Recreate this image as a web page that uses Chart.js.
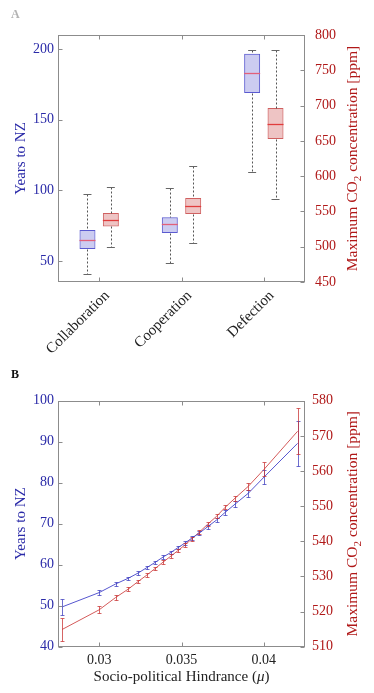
<!DOCTYPE html>
<html><head><meta charset="utf-8">
<script src="https://cdn.jsdelivr.net/npm/chart.js@4.4.1/dist/chart.umd.min.js"></script>
<style>
html,body{margin:0;padding:0;background:#fff;width:374px;height:693px;overflow:hidden}
.wrap{position:absolute;left:0;width:374px}
#wa{top:0;height:365px}
#wb{top:365px;height:328px}
canvas{display:block}
</style></head><body>
<div class="wrap" id="wa"><canvas id="ca" width="374" height="365"></canvas></div>
<div class="wrap" id="wb"><canvas id="cb" width="374" height="328"></canvas></div>
<script>
// ---------- Panel A data (box plots) ----------
const categories = ['Collaboration', 'Cooperation', 'Defection'];
const yearsMin    = [40.7, 48.7, 112.9];
const yearsQ1     = [58.4, 69.7, 168.9];
const yearsMedian = [64.8, 75.8, 182.8];
const yearsQ3     = [71.8, 80.8, 196.7];
const yearsMax    = [97.6, 101.6, 199.6];
const co2Min      = [499.6, 505.3, 567.6];
const co2Q1       = [528.8, 546.4, 652.6];
const co2Median   = [537.9, 557.7, 674.3];
const co2Q3       = [547.8, 569.0, 696.6];
const co2Max      = [584.6, 613.8, 778.2];
const yearsTicksA = [50, 100, 150, 200];
const co2TicksA   = [450, 500, 550, 600, 650, 700, 750, 800];

// ---------- Panel B data (mean +/- error) ----------
const mu        = [0.02775, 0.0300, 0.0310, 0.03177, 0.03238, 0.0329, 0.03341, 0.03389, 0.03436, 0.0348,
                   0.03522, 0.03563, 0.03608, 0.0366, 0.03713, 0.03766, 0.03826, 0.03905, 0.04002, 0.04205];
const yearsMean = [49.7, 53.2, 55.3, 56.7, 58.0, 59.3, 60.6, 61.9, 63.0, 64.2,
                   65.3, 66.5, 67.7, 69.3, 70.9, 72.8, 74.8, 77.4, 81.4, 89.6];
const yearsErr  = [1.9, 0.6, 0.4, 0.4, 0.4, 0.4, 0.4, 0.4, 0.4, 0.4,
                   0.4, 0.4, 0.4, 0.5, 0.5, 0.6, 0.7, 0.9, 1.6, 5.5];
const co2Mean   = [514.9, 520.5, 524.0, 526.4, 528.6, 530.4, 532.3, 534.1, 535.8, 537.4,
                   539.0, 540.7, 542.6, 544.9, 547.1, 549.7, 552.3, 555.6, 560.5, 571.3];
const co2Err    = [3.3, 1.0, 0.6, 0.5, 0.5, 0.5, 0.5, 0.5, 0.5, 0.5,
                   0.5, 0.5, 0.5, 0.5, 0.6, 0.6, 0.7, 0.9, 2.0, 6.6];
const muTicks      = [0.03, 0.035, 0.04];
const muTickLabels = ['0.03', '0.035', '0.04'];
const yearsTicksB  = [40, 50, 60, 70, 80, 90, 100];
const co2TicksB    = [510, 520, 530, 540, 550, 560, 570, 580];

// ---------- styling ----------
const SERIF = "'Liberation Serif', 'Times New Roman', 'DejaVu Serif', serif";
const BLUE_TXT = '#2a2aa8';
const RED_TXT = '#b01818';
const FRAME = '#8c8c8c';
Chart.defaults.font.family = SERIF;
Chart.defaults.color = '#222';

function fixTicks(values) {
  return function (scale) { scale.ticks = values.map(v => ({ value: v })); };
}
function setWidth(w) { return function (s) { s.width = w; }; }
function setHeight(h) { return function (s) { s.height = h; }; }

// frame, inward ticks, titles, panel letters
const decor = {
  id: 'decor',
  afterDraw(chart, args, o) {
    const ctx = chart.ctx;
    const { left, right, top, bottom } = chart.chartArea;
    ctx.save();
    ctx.strokeStyle = FRAME;
    ctx.lineWidth = 1;
    const L = Math.round(left) + 0.5, R = Math.round(right) - 0.5;
    const T = Math.round(top) + 0.5, B = Math.round(bottom) - 0.5;
    ctx.strokeRect(L, T, R - L, B - T);
    const TL = 4;
    ctx.beginPath();
    const xs = chart.scales.x;
    xs.ticks.forEach((t, i) => {
      const p = Math.round(xs.getPixelForTick(i)) + 0.5;
      ctx.moveTo(p, B); ctx.lineTo(p, B - TL);
      ctx.moveTo(p, T); ctx.lineTo(p, T + TL);
    });
    const yl = chart.scales.y;
    yl.ticks.forEach((t, i) => {
      const p = Math.round(yl.getPixelForTick(i)) + 0.5;
      ctx.moveTo(L, p); ctx.lineTo(L + TL, p);
    });
    const yr = chart.scales.y1;
    yr.ticks.forEach((t, i) => {
      const p = Math.round(yr.getPixelForTick(i)) + 0.5;
      ctx.moveTo(R, p); ctx.lineTo(R - TL, p);
    });
    ctx.stroke();

    const cy = (top + bottom) / 2;
    // left title
    ctx.font = '15px ' + SERIF;
    ctx.fillStyle = BLUE_TXT;
    ctx.textBaseline = 'middle';
    ctx.textAlign = 'center';
    ctx.save();
    ctx.translate(o.leftTitleX, cy);
    ctx.rotate(-Math.PI / 2);
    ctx.fillText('Years to NZ', 0, 0);
    ctx.restore();
    // right title with subscript
    ctx.save();
    ctx.fillStyle = RED_TXT;
    ctx.translate(o.rightTitleX, cy);
    ctx.rotate(-Math.PI / 2);
    ctx.textAlign = 'left';
    const p1 = 'Maximum CO', p2 = '2', p3 = ' concentration [ppm]';
    ctx.font = '15.5px ' + SERIF;
    const w1 = ctx.measureText(p1).width, w3 = ctx.measureText(p3).width;
    ctx.font = '11px ' + SERIF;
    const w2 = ctx.measureText(p2).width;
    let s = -(w1 + w2 + w3) / 2;
    ctx.font = '15.5px ' + SERIF;
    ctx.fillText(p1, s, 0);
    ctx.font = '11px ' + SERIF;
    ctx.fillText(p2, s + w1, 5);
    ctx.font = '15.5px ' + SERIF;
    ctx.fillText(p3, s + w1 + w2, 0);
    ctx.restore();
    // bottom title (panel B)
    if (o.xTitle) {
      const pa = 'Socio-political Hindrance (', pb = 'μ', pc = ')';
      ctx.fillStyle = '#222';
      ctx.textAlign = 'left';
      ctx.font = '15px ' + SERIF;
      const wa = ctx.measureText(pa).width, wc = ctx.measureText(pc).width;
      ctx.font = 'italic 15px ' + SERIF;
      const wb = ctx.measureText(pb).width;
      const cx = (left + right) / 2;
      let sx = cx - (wa + wb + wc) / 2;
      ctx.font = '15px ' + SERIF;
      ctx.fillText(pa, sx, o.xTitleY);
      ctx.font = 'italic 15px ' + SERIF;
      ctx.fillText(pb, sx + wa, o.xTitleY);
      ctx.font = '15px ' + SERIF;
      ctx.fillText(pc, sx + wa + wb, o.xTitleY);
    }
    // panel letter
    ctx.font = 'bold 12px ' + SERIF;
    ctx.fillStyle = o.letterColor;
    ctx.textAlign = 'left';
    ctx.textBaseline = 'top';
    ctx.fillText(o.letter, 11, o.letterY);
    ctx.restore();
  }
};

// whiskers, caps, medians for the box datasets
const boxWhiskers = {
  id: 'boxWhiskers',
  afterDatasetsDraw(chart) {
    const ctx = chart.ctx;
    chart.data.datasets.forEach((ds, di) => {
      const meta = chart.getDatasetMeta(di);
      const ys = chart.scales[meta.yAxisID];
      const st = ds.stats;
      meta.data.forEach((el, i) => {
        const x = el.x, w = el.width;
        const px = v => Math.round(ys.getPixelForValue(v)) + 0.5;
        const xx = Math.round(x) + 0.5;
        ctx.save();
        ctx.strokeStyle = '#555';
        ctx.lineWidth = 1;
        ctx.setLineDash([2, 2]);
        ctx.beginPath();
        ctx.moveTo(xx, px(st.max[i])); ctx.lineTo(xx, px(st.q3[i]));
        ctx.moveTo(xx, px(st.q1[i])); ctx.lineTo(xx, px(st.min[i]));
        ctx.stroke();
        ctx.setLineDash([]);
        ctx.strokeStyle = '#666';
        ctx.beginPath();
        const cw = w / 4;
        ctx.moveTo(x - cw, px(st.max[i])); ctx.lineTo(x + cw, px(st.max[i]));
        ctx.moveTo(x - cw, px(st.min[i])); ctx.lineTo(x + cw, px(st.min[i]));
        ctx.stroke();
        ctx.strokeStyle = ds.medianColor;
        ctx.lineWidth = 1.3;
        ctx.beginPath();
        ctx.moveTo(x - w / 2, px(st.med[i])); ctx.lineTo(x + w / 2, px(st.med[i]));
        ctx.stroke();
        ctx.restore();
      });
    });
  }
};

// error bars for panel B
const errorBars = {
  id: 'errorBars',
  afterDatasetsDraw(chart) {
    const ctx = chart.ctx;
    const xs = chart.scales.x;
    chart.data.datasets.forEach((ds, di) => {
      const meta = chart.getDatasetMeta(di);
      const ys = chart.scales[meta.yAxisID];
      ctx.save();
      ctx.strokeStyle = ds.errColor;
      ctx.lineWidth = 1;
      ctx.beginPath();
      ds.data.forEach((pt, i) => {
        const x = Math.round(xs.getPixelForValue(pt.x)) + 0.5;
        const yt = Math.round(ys.getPixelForValue(pt.y + ds.errors[i])) + 0.5;
        const yb = Math.round(ys.getPixelForValue(pt.y - ds.errors[i])) + 0.5;
        ctx.moveTo(x, yt); ctx.lineTo(x, yb);
        ctx.moveTo(x - 2, yt); ctx.lineTo(x + 2, yt);
        ctx.moveTo(x - 2, yb); ctx.lineTo(x + 2, yb);
      });
      ctx.stroke();
      ctx.restore();
    });
  }
};

const hiddenGrid = { display: false, drawTicks: false };
const noBorder = { display: false };

// ---------- Panel A ----------
new Chart(document.getElementById('ca'), {
  type: 'bar',
  data: {
    labels: categories,
    datasets: [
      {
        label: 'Years to NZ',
        data: categories.map((c, i) => [yearsQ1[i], yearsQ3[i]]),
        yAxisID: 'y',
        backgroundColor: 'rgba(95,95,210,0.32)',
        borderColor: '#5a5ad0',
        borderWidth: 1,
        borderSkipped: false,
        categoryPercentage: 0.568,
        barPercentage: 0.684,
        medianColor: '#e2607a',
        stats: { min: yearsMin, q1: yearsQ1, med: yearsMedian, q3: yearsQ3, max: yearsMax }
      },
      {
        label: 'Maximum CO2 concentration',
        data: categories.map((c, i) => [co2Q1[i], co2Q3[i]]),
        yAxisID: 'y1',
        backgroundColor: 'rgba(205,85,85,0.35)',
        borderColor: '#d06060',
        borderWidth: 1,
        borderSkipped: false,
        categoryPercentage: 0.568,
        barPercentage: 0.684,
        medianColor: '#e03c3c',
        stats: { min: co2Min, q1: co2Q1, med: co2Median, q3: co2Q3, max: co2Max }
      }
    ]
  },
  options: {
    responsive: false,
    devicePixelRatio: 1,
    animation: false,
    layout: { padding: { top: 35, left: 0, right: 0, bottom: 0 } },
    plugins: {
      legend: { display: false },
      tooltip: { enabled: false },
      decor: { leftTitleX: 21, rightTitleX: 353, letter: 'A', letterColor: '#b3b3b3', letterY: 9 }
    },
    scales: {
      x: {
        type: 'category',
        offset: true,
        grid: hiddenGrid, border: noBorder,
        ticks: { color: '#222', font: { size: 15, family: SERIF }, minRotation: 45, maxRotation: 45,
                 autoSkip: false, padding: 5, labelOffset: 8 },
        afterFit: setHeight(83)
      },
      y: {
        position: 'left',
        min: 35, max: 210,
        grid: hiddenGrid, border: noBorder,
        afterBuildTicks: fixTicks(yearsTicksA),
        ticks: { color: BLUE_TXT, font: { size: 14, family: SERIF }, padding: 4 },
        afterFit: setWidth(58)
      },
      y1: {
        position: 'right',
        min: 450, max: 800,
        grid: hiddenGrid, border: noBorder,
        afterBuildTicks: fixTicks(co2TicksA),
        ticks: { color: RED_TXT, font: { size: 14, family: SERIF }, padding: 10 },
        afterFit: setWidth(69)
      }
    }
  },
  plugins: [boxWhiskers, decor]
});

// ---------- Panel B ----------
new Chart(document.getElementById('cb'), {
  type: 'scatter',
  data: {
    datasets: [
      {
        label: 'Years to NZ',
        data: mu.map((m, i) => ({ x: m, y: yearsMean[i] })),
        yAxisID: 'y',
        showLine: true,
        borderColor: '#5656cf',
        borderWidth: 1,
        pointRadius: 0,
        errors: yearsErr,
        errColor: 'rgba(60,60,190,0.75)'
      },
      {
        label: 'Maximum CO2 concentration',
        data: mu.map((m, i) => ({ x: m, y: co2Mean[i] })),
        yAxisID: 'y1',
        showLine: true,
        borderColor: '#d45a5a',
        borderWidth: 1,
        pointRadius: 0,
        errors: co2Err,
        errColor: 'rgba(200,50,50,0.75)'
      }
    ]
  },
  options: {
    responsive: false,
    devicePixelRatio: 1,
    animation: false,
    layout: { padding: { top: 35.7, left: 0, right: 0, bottom: 0 } },
    plugins: {
      legend: { display: false },
      tooltip: { enabled: false },
      decor: { leftTitleX: 21, rightTitleX: 353, letter: 'B', letterColor: '#111', letterY: 4,
               xTitle: true, xTitleY: 311.7 }
    },
    scales: {
      x: {
        type: 'linear',
        min: 0.0275, max: 0.0425,
        grid: hiddenGrid, border: noBorder,
        afterBuildTicks: fixTicks(muTicks),
        ticks: {
          color: '#222', font: { size: 14, family: SERIF }, padding: 5, maxRotation: 0,
          callback: (v) => muTickLabels[muTicks.findIndex(t => Math.abs(t - v) < 1e-9)]
        },
        afterFit: setHeight(46.3)
      },
      y: {
        position: 'left',
        min: 40, max: 100,
        grid: hiddenGrid, border: noBorder,
        afterBuildTicks: fixTicks(yearsTicksB),
        ticks: { color: BLUE_TXT, font: { size: 14, family: SERIF }, padding: 4 },
        afterFit: setWidth(58)
      },
      y1: {
        position: 'right',
        min: 510, max: 580,
        grid: hiddenGrid, border: noBorder,
        afterBuildTicks: fixTicks(co2TicksB),
        ticks: { color: RED_TXT, font: { size: 14, family: SERIF }, padding: 7 },
        afterFit: setWidth(69)
      }
    }
  },
  plugins: [errorBars, decor]
});
</script>
</body></html>
